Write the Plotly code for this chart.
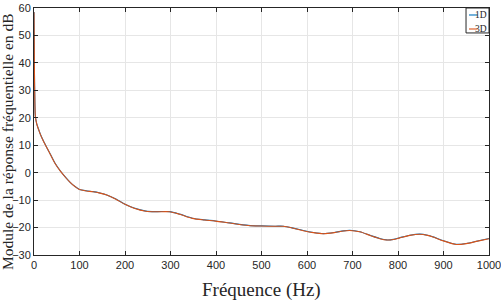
import plotly.graph_objects as go

freq = [0, 1, 2, 3, 6, 10, 14, 20, 28, 36, 46, 58, 70, 80, 90, 100, 115, 130, 145, 160, 180, 200, 220, 246, 270, 298, 320, 348, 375, 399, 430, 471, 500, 530, 548, 570, 592, 614, 636, 660, 680, 694, 716, 740, 760, 775, 790, 804, 826, 848, 865, 877, 900, 928, 950, 975, 1000]
mag_1d = [58.5, 36, 25, 20.5, 17.8, 15.8, 14, 11.8, 9.2, 6.7, 3.5, 0.6, -1.8, -3.6, -5.0, -6.1, -6.6, -6.9, -7.4, -8.1, -9.6, -11.5, -12.9, -14.0, -14.2, -14.2, -15.1, -16.6, -17.2, -17.6, -18.3, -19.2, -19.4, -19.5, -19.5, -20.2, -21.1, -21.8, -22.2, -21.8, -21.2, -21.0, -21.5, -22.9, -24.0, -24.5, -24.3, -23.7, -22.8, -22.4, -22.8, -23.4, -24.8, -26.1, -25.8, -24.9, -24.0]
mag_3d = [v - 0.05 for v in mag_1d]
series_names = ["1D", "3D"]
series_colors = ["#0072BD", "#D95319"]

fig = go.Figure()
for name, ys, col in zip(series_names, [mag_1d, mag_3d], series_colors):
    fig.add_trace(go.Scatter(x=freq, y=ys, mode="lines", name=name, showlegend=False,
                             line=dict(color=col, width=1.1, shape="spline", smoothing=0.8)))

axis_common = dict(
    showline=True, linecolor="#262626", linewidth=1, mirror="ticks",
    ticks="inside", ticklen=4, tickcolor="#262626",
    showgrid=True, gridcolor="#e6e6e6", gridwidth=1, zeroline=False,
    automargin=False, ticklabeloverflow="allow",
    tickfont=dict(family="Liberation Sans, Arial", size=11, color="#262626"),
)

fig.update_layout(
    width=501, height=302,
    margin=dict(l=34, r=12, t=8, b=47, autoexpand=False),
    paper_bgcolor="white", plot_bgcolor="white",
    xaxis=dict(range=[0, 1000], dtick=100, **axis_common),
    yaxis=dict(range=[-30, 60], dtick=10, **axis_common),
    showlegend=False,
)

serif = "Liberation Serif, serif"
# axis titles
fig.add_annotation(text="Fréquence (Hz)", xref="paper", yref="paper", x=0.501, y=-0.142,
                   xanchor="center", yanchor="middle", showarrow=False,
                   font=dict(family=serif, size=19, color="#262626"))
fig.add_annotation(text="Module de la réponse fréquentielle en dB", xref="paper", yref="paper",
                   x=-0.058, y=0.46, xanchor="center", yanchor="middle", textangle=-90,
                   showarrow=False, font=dict(family=serif, size=15.5, color="#262626"))

# legend (custom, compact like the reference)
fig.add_shape(type="rect", xref="paper", yref="paper", x0=0.9495, x1=1.0, y0=0.899, y1=1.0,
              line=dict(color="#262626", width=1), fillcolor="white", layer="above")
leg_y = [0.9717, 0.915]
for name, col, yy in zip(series_names, series_colors, leg_y):
    fig.add_shape(type="line", xref="paper", yref="paper", x0=0.9560, x1=0.9750, y0=yy, y1=yy,
                  line=dict(color=col, width=1.1), layer="above")
    fig.add_annotation(text=name, xref="paper", yref="paper", x=1.0, y=yy,
                       xanchor="right", yanchor="middle", showarrow=False, xshift=-1,
                       borderpad=0,
                       font=dict(family=serif, size=9.5, color="#262626"))

fig.write_html("out.html")
